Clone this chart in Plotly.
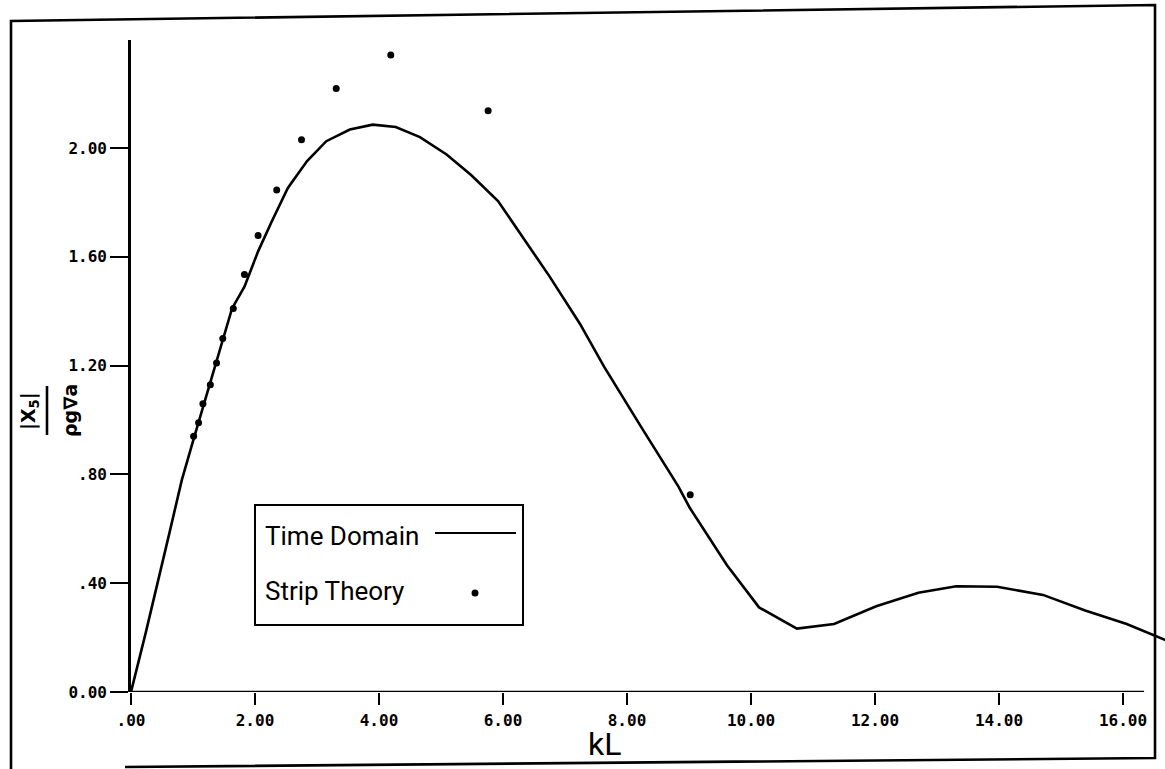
import plotly.graph_objects as go

# ---------------- data ----------------
kL_time = [0.0, 0.24, 0.62, 0.82, 1.01, 1.19, 1.38, 1.63, 1.83, 2.05, 2.27, 2.53, 2.84,
           3.15, 3.53, 3.90, 4.27, 4.66, 5.09, 5.49, 5.92, 6.39, 6.75, 7.24, 7.63,
           8.23, 8.83, 9.01, 9.61, 10.13, 10.74, 11.34, 12.02, 12.70, 13.31, 13.97,
           14.71, 15.39, 16.06, 16.80]
x5_time = [0.0, 0.22, 0.585, 0.78, 0.93, 1.07, 1.21, 1.41, 1.49, 1.62, 1.73, 1.853, 1.952,
           2.025, 2.068, 2.086, 2.077, 2.04, 1.976, 1.90, 1.805, 1.65, 1.528, 1.354, 1.196,
           0.974, 0.755, 0.678, 0.467, 0.311, 0.233, 0.25, 0.315, 0.365, 0.389, 0.387,
           0.357, 0.30, 0.25, 0.18]

kL_strip = [1.01, 1.09, 1.16, 1.28, 1.38, 1.48, 1.65, 1.83, 2.05, 2.35, 2.75, 3.31,
            4.19, 5.76, 9.02]
x5_strip = [0.94, 0.99, 1.06, 1.13, 1.21, 1.30, 1.41, 1.535, 1.678, 1.846, 2.03, 2.219,
            2.342, 2.137, 0.725]

x_ticks = [0, 2, 4, 6, 8, 10, 12, 14, 16]
x_tick_labels = [".00", "2.00", "4.00", "6.00", "8.00", "10.00", "12.00", "14.00", "16.00"]
y_ticks = [0, 0.4, 0.8, 1.2, 1.6, 2.0]
y_tick_labels = ["0.00", ".40", ".80", "1.20", "1.60", "2.00"]

legend_names = ["Time Domain", "Strip Theory"]
x_title = "kL"
y_num = "|X<sub>5</sub>|"
y_den = "ρg∇a"

# ---------------- geometry ----------------
W, H = 1165, 769
L, R, T, B = 131, 0, 40, 77
PX_PER_X = 62.0
PX_PER_Y = 272.0
XMAX = (W - L - R) / PX_PER_X
YMAX = (H - T - B) / PX_PER_Y
X_AXIS_END = 16.34


def px(x):
    return (x - L) / (W - L - R)


def py(y):
    return (H - B - y) / (H - T - B)


TICKFONT = dict(family="DejaVu Sans Mono", size=16, color="black", weight="bold")
NARROW = "Roboto, Liberation Sans Narrow, sans-serif"

fig = go.Figure()
fig.add_trace(go.Scatter(x=kL_time, y=x5_time, mode="lines", name=legend_names[0],
                         line=dict(color="black", width=2.6), showlegend=False))
fig.add_trace(go.Scatter(x=kL_strip, y=x5_strip, mode="markers", name=legend_names[1],
                         marker=dict(color="black", size=7), showlegend=False))

shapes = []
# x axis line (ends before the right edge)
shapes.append(dict(type="line", xref="x", yref="y", x0=0, x1=X_AXIS_END, y0=0, y1=0,
                   line=dict(color="black", width=2.4)))
# fraction bar of y title
shapes.append(dict(type="line", xref="paper", yref="paper", x0=px(47), x1=px(47),
                   y0=py(386), y1=py(435), line=dict(color="black", width=2.6)))
# legend box
shapes.append(dict(type="rect", xref="paper", yref="paper", x0=px(255), x1=px(523),
                   y0=py(625), y1=py(505), line=dict(color="black", width=2)))
# legend line sample
shapes.append(dict(type="line", xref="paper", yref="paper", x0=px(435), x1=px(516),
                   y0=py(533), y1=py(533), line=dict(color="black", width=2)))
# legend dot sample
shapes.append(dict(type="circle", xref="paper", yref="paper", x0=px(471.5), x1=px(478.5),
                   y0=py(596.5), y1=py(589.5), fillcolor="black", line=dict(color="black", width=0)))
# outer frame (slightly skewed like the scan)
frame_path = "M {},{} L {},{} L {},{} L {},{} L {},{}".format(
    px(11), py(769), px(11), py(21), px(1155), py(5), px(1155), py(758), px(125), py(767))
shapes.append(dict(type="path", xref="paper", yref="paper", path=frame_path,
                   line=dict(color="black", width=2.6)))

annotations = [
    dict(text=x_title, x=px(604), y=py(744), xref="paper", yref="paper", showarrow=False,
         xanchor="center", yanchor="middle", font=dict(family=NARROW, size=32, color="black")),
    dict(text=legend_names[0], x=px(263), y=py(536), xref="paper", yref="paper", showarrow=False,
         xanchor="left", yanchor="middle", font=dict(family=NARROW, size=26, color="black")),
    dict(text=legend_names[1], x=px(263), y=py(591), xref="paper", yref="paper", showarrow=False,
         xanchor="left", yanchor="middle", font=dict(family=NARROW, size=26, color="black")),
    dict(text=y_num, x=px(30), y=py(411), xref="paper", yref="paper", showarrow=False,
         textangle=-90, xanchor="center", yanchor="middle",
         font=dict(family="DejaVu Sans", size=19, color="black", weight="bold")),
    dict(text=y_den, x=px(70), y=py(411), xref="paper", yref="paper", showarrow=False,
         textangle=-90, xanchor="center", yanchor="middle",
         font=dict(family="DejaVu Sans", size=19, color="black", weight="bold")),
]

fig.update_layout(
    width=W, height=H,
    margin=dict(l=L, r=R, t=T, b=B),
    paper_bgcolor="white", plot_bgcolor="white",
    shapes=shapes, annotations=annotations,
    xaxis=dict(range=[0, XMAX], showgrid=False, zeroline=False, showline=False,
               ticks="outside", ticklen=12, tickwidth=2, tickcolor="black",
               tickvals=x_ticks, ticktext=x_tick_labels, tickfont=TICKFONT,
               ticklabelstandoff=2),
    yaxis=dict(range=[0, YMAX], showgrid=False, zeroline=False, showline=True,
               linecolor="black", linewidth=2.6,
               ticks="outside", ticklen=18, tickwidth=2, tickcolor="black",
               tickvals=y_ticks, ticktext=y_tick_labels, tickfont=TICKFONT,
               ticklabelstandoff=0),
)

fig.write_html("out.html")
